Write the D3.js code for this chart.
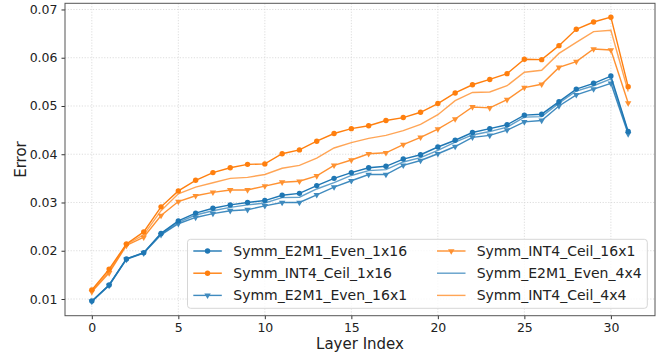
<!DOCTYPE html>
<html><head><meta charset="utf-8">
<script src="https://cdn.jsdelivr.net/npm/d3@7"></script>
<style>body{margin:0;background:#fff}svg{display:block;font-family:"DejaVu Sans",sans-serif}</style>
</head><body><svg id="c" width="661" height="356"></svg>
<script>
const layers = d3.range(32);
const xTicks = [0,5,10,15,20,25,30];
const yTicks = [0.01,0.02,0.03,0.04,0.05,0.06,0.07];
const e2m1_1x16 = [0.0096,0.0129,0.0183,0.0196,0.0236,0.0262,0.0278,0.0288,0.0295,0.0300,0.0304,0.0315,0.0319,0.0335,0.0350,0.0362,0.0372,0.0375,0.0390,0.0399,0.0415,0.0429,0.0445,0.0453,0.0461,0.0481,0.0483,0.0509,0.0535,0.0547,0.0562,0.0447];
const int4_1x16 = [0.0119,0.0162,0.0214,0.0239,0.0291,0.0324,0.0346,0.0362,0.0372,0.0379,0.0380,0.0401,0.0409,0.0427,0.0443,0.0453,0.0459,0.0470,0.0476,0.0487,0.0505,0.0527,0.0544,0.0555,0.0567,0.0597,0.0596,0.0625,0.0659,0.0674,0.0684,0.0540];
const e2m1_16x1 = [0.0095,0.0128,0.0182,0.0195,0.0233,0.0256,0.0269,0.0277,0.0283,0.0285,0.0293,0.0300,0.0300,0.0316,0.0332,0.0345,0.0358,0.0358,0.0377,0.0387,0.0401,0.0416,0.0435,0.0439,0.0450,0.0467,0.0470,0.0500,0.0523,0.0535,0.0547,0.0442];
const int4_16x1 = [0.0115,0.0154,0.0211,0.0228,0.0273,0.0302,0.0314,0.0321,0.0326,0.0326,0.0334,0.0342,0.0344,0.0355,0.0377,0.0388,0.0401,0.0403,0.0420,0.0435,0.0452,0.0473,0.0498,0.0496,0.0513,0.0538,0.0545,0.0580,0.0592,0.0618,0.0616,0.0506];
const e2m1_4x4 = [0.0095,0.0129,0.0183,0.0196,0.0235,0.0259,0.0274,0.0283,0.0290,0.0295,0.0299,0.0310,0.0311,0.0328,0.0341,0.0356,0.0366,0.0368,0.0384,0.0393,0.0408,0.0425,0.0440,0.0447,0.0456,0.0477,0.0478,0.0506,0.0531,0.0542,0.0556,0.0445];
const int4_4x4 = [0.0117,0.0158,0.0213,0.0233,0.0283,0.0318,0.0332,0.0341,0.0350,0.0352,0.0358,0.0371,0.0377,0.0392,0.0413,0.0424,0.0433,0.0439,0.0449,0.0462,0.0482,0.0511,0.0528,0.0529,0.0542,0.0570,0.0574,0.0609,0.0632,0.0654,0.0657,0.0530];
const seriesNames = ["Symm_E2M1_Even_1x16","Symm_INT4_Ceil_1x16","Symm_E2M1_Even_16x1","Symm_INT4_Ceil_16x1","Symm_E2M1_Even_4x4","Symm_INT4_Ceil_4x4"];
const seriesData = [e2m1_1x16,int4_1x16,e2m1_16x1,int4_16x1,e2m1_4x4,int4_4x4];
const blue="#1f77b4", orange="#ff7f0e";
const styles = [
 {c:blue,m:"circle",o:1},{c:orange,m:"circle",o:1},
 {c:blue,m:"tri",o:0.85},{c:orange,m:"tri",o:0.85},
 {c:blue,m:null,o:0.7},{c:orange,m:null,o:0.7}];

const svg = d3.select("#c");
const L=65,R=655,T=3.3,B=315.7;
const x = d3.scaleLinear().domain([-1.55,32.55]).range([L,R]);
const y = d3.scaleLinear().domain([0.00654,0.07128]).range([B,T]);

// grid
const g = svg.append("g");
g.selectAll(".gx").data(xTicks).join("line").attr("x1",d=>x(d)).attr("x2",d=>x(d)).attr("y1",T).attr("y2",B)
 .attr("stroke","#d4d4d4").attr("stroke-width",0.8).attr("stroke-dasharray","1.2,1.6");
g.selectAll(".gy").data(yTicks).join("line").attr("y1",d=>y(d)).attr("y2",d=>y(d)).attr("x1",L).attr("x2",R)
 .attr("stroke","#d4d4d4").attr("stroke-width",0.8).attr("stroke-dasharray","1.2,1.6");

// axes
const xa = svg.append("g").attr("transform",`translate(0,${B})`).call(d3.axisBottom(x).tickValues(xTicks).tickSize(3.5).tickPadding(4).tickFormat(d3.format("d")));
const ya = svg.append("g").attr("transform",`translate(${L},0)`).call(d3.axisLeft(y).tickValues(yTicks).tickSize(3.5).tickPadding(4).tickFormat(d3.format(".2f")));
[xa,ya].forEach(a=>{a.select(".domain").remove();a.selectAll("line").attr("stroke","#333");a.selectAll("text").attr("font-size",12.5).attr("fill","#222").attr("font-family","DejaVu Sans");});
svg.append("rect").attr("x",L).attr("y",T).attr("width",R-L).attr("height",B-T).attr("fill","none").attr("stroke","#555").attr("stroke-width",1);

svg.append("text").attr("x",(L+R)/2).attr("y",349).attr("text-anchor","middle").attr("font-size",15).attr("fill","#222").text("Layer Index");
svg.append("text").attr("transform",`translate(26,${(T+B)/2}) rotate(-90)`).attr("text-anchor","middle").attr("font-size",15).attr("fill","#222").text("Error");

const line = d3.line().x((d,i)=>x(layers[i])).y(d=>y(d));
const tri = d3.symbol().type(d3.symbolTriangle).size(18);
function marker(sel,m,c,cx,cy){
  if(m==="circle") sel.append("circle").attr("cx",cx).attr("cy",cy).attr("r",2.7).attr("fill",c);
  else if(m==="tri") sel.append("path").attr("d",tri()).attr("transform",`translate(${cx},${cy}) rotate(180)`).attr("fill",c);
}
const plot = svg.append("g");
seriesData.forEach((s,k)=>{
  const st=styles[k];
  const gg=plot.append("g").attr("opacity",st.o);
  gg.append("path").datum(s).attr("d",line).attr("fill","none").attr("stroke",st.c).attr("stroke-width",1.4);
  if(st.m) s.forEach((v,i)=>marker(gg,st.m,st.c,x(layers[i]),y(v)));
});

// legend
const lg = svg.append("g");
lg.append("rect").attr("x",187.5).attr("y",239.3).attr("width",459.8).attr("height",69).attr("rx",3)
 .attr("fill","#fff").attr("fill-opacity",0.8).attr("stroke","#d6d6d6").attr("stroke-width",1);
const cols=[{lx:193.3,tx:233.3},{lx:437,tx:476.7}];
const rowsY=[251,273.2,295.4];
seriesNames.forEach((n,k)=>{
  const col=cols[Math.floor(k/3)], ry=rowsY[k%3], st=styles[k];
  const gg=lg.append("g").attr("opacity",st.o);
  gg.append("line").attr("x1",col.lx).attr("x2",col.lx+28.5).attr("y1",ry).attr("y2",ry).attr("stroke",st.c).attr("stroke-width",1.4);
  if(st.m) marker(gg,st.m,st.c,col.lx+14.25,ry);
  lg.append("text").attr("x",col.tx).attr("y",ry).attr("dy","0.36em").attr("font-size",14).attr("fill","#222").text(n);
});
</script></body></html>
